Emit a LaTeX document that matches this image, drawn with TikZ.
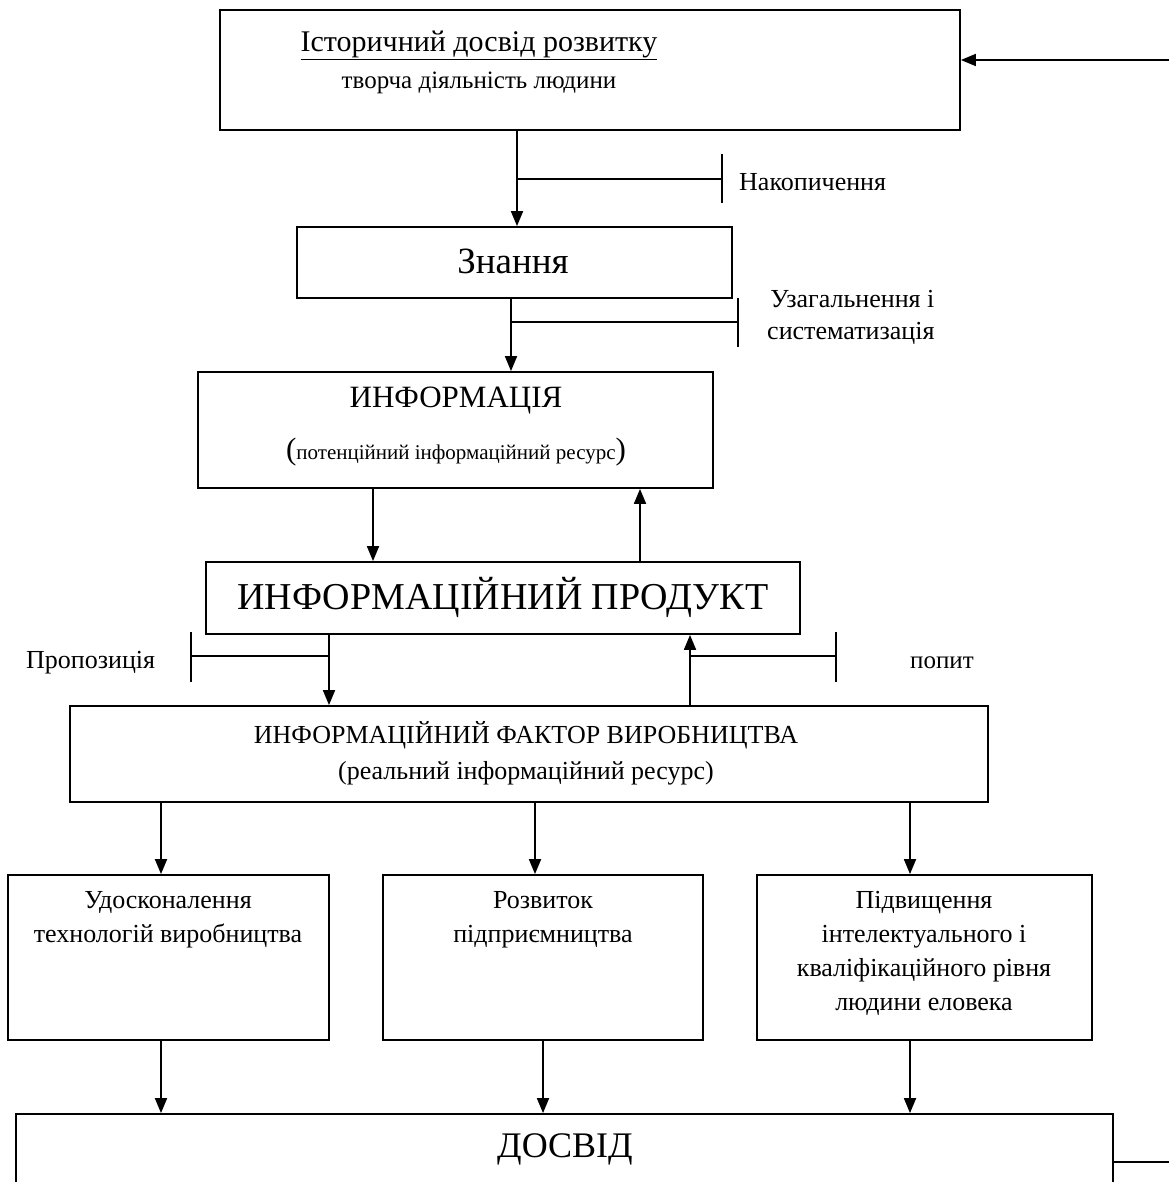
\documentclass[tikz,border=0pt]{standalone}
\usepackage{fontspec}
\setmainfont{Liberation Serif}
\usetikzlibrary{arrows.meta}
\newcommand{\fs}[1]{\fontsize{#1}{#1}\selectfont}
\newcommand{\fsl}[2]{\fontsize{#1}{#2}\selectfont}
\begin{document}
\begin{tikzpicture}[x=1pt,y=-1pt,
  box/.style={draw,line width=1.8pt,inner sep=0pt,anchor=center},
  txt/.style={inner sep=0pt,anchor=center,align=center},
  arr/.style={line width=1.8pt,-{Triangle[length=15pt,width=12pt]}},
  lnk/.style={line width=1.5pt},
]
\useasboundingbox (0,0) rectangle (1169,1182);

% boxes
\node[box,minimum width=740,minimum height=120] (hist) at (590,70) {};
\node[box,minimum width=435,minimum height=71]  (zn)   at (514.5,262.5) {};
\node[box,minimum width=515,minimum height=116] (inf)  at (455.5,430) {};
\node[box,minimum width=594,minimum height=72]  (prod) at (503,598) {};
\node[box,minimum width=918,minimum height=96]  (fac)  at (529,754) {};
\node[box,minimum width=321,minimum height=165] (ba)   at (168.5,957.5) {};
\node[box,minimum width=320,minimum height=165] (bb)   at (543,957.5) {};
\node[box,minimum width=335,minimum height=165] (bc)   at (924.5,957.5) {};
\node[box,minimum width=1097,minimum height=126] (dos) at (564.5,1177) {};

% texts
\node[txt,font=\fs{30}] (histT) at (479,45) {\underline{Історичний досвід розвитку}};
\node[txt,font=\fs{25}] (histS) at (479,83) {творча діяльність людини};
\node[txt,font=\fs{37}] (znT)   at (513,261) {Знання};
\node[txt,font=\fs{31}] (infT)  at (456,401) {ИНФОРМАЦІЯ};
\node[txt,font=\fs{31}] (infS)  at (456,452) {(\fs{21}потенційний інформаційний ресурс\fs{31})};
\node[txt,font=\fs{38}] (prodT) at (503,597) {ИНФОРМАЦІЙНИЙ ПРОДУКТ};
\node[txt,font=\fs{26}] (facT)  at (526,735) {ИНФОРМАЦІЙНИЙ ФАКТОР ВИРОБНИЦТВА};
\node[txt,font=\fs{26}] (facS)  at (526,773) {(реальний інформаційний ресурс)};
\node[txt,anchor=north,font=\fsl{26}{34}] (baT) at (168,891) {Удосконалення\\технологій виробництва};
\node[txt,anchor=north,font=\fsl{26}{34}] (bbT) at (543,891) {Розвиток\\підприємництва};
\node[txt,anchor=north,font=\fsl{26}{34}] (bcT) at (924,891) {Підвищення\\інтелектуального і\\кваліфікаційного рівня\\людини еловека};
\node[txt,font=\fs{36}] (dosT)  at (565,1149) {ДОСВІД};

% side labels
\node[txt,anchor=west,font=\fs{26}] (lNak) at (739,182) {Накопичення};
\node[txt,anchor=west,align=right,font=\fsl{26}{32}] (lUz) at (767,317) {Узагальнення і\\систематизація};
\node[txt,anchor=west,font=\fs{26}] (lPro) at (26,663) {Пропозиція};
\node[txt,anchor=west,font=\fs{25}] (lPop) at (910,663) {попит};

% connector columns and branch ends
\coordinate (x1) at (517,0);
\coordinate (x2) at (511,0);
\coordinate (x3) at (373,0);
\coordinate (x4) at (640,0);
\coordinate (x5) at (329,0);
\coordinate (x6) at (690,0);
\coordinate (xa) at (161,0);
\coordinate (xb) at (535,0);
\coordinate (xc) at (910,0);
\coordinate (xb2) at (543,0);
\coordinate (tNak) at (722,179);
\coordinate (tUz)  at (738,322);
\coordinate (tPro) at (191,656);
\coordinate (tPop) at (836,656);
\coordinate (inR)  at (1169,60);
\coordinate (outR) at (1169,1162);

% main flow
\draw[arr] (inR) -- (inR -| hist.east);
\draw[arr] (hist.south -| x1) -- (zn.north -| x1);
\draw[arr] (zn.south -| x2) -- (inf.north -| x2);
\draw[arr] (inf.south -| x3) -- (prod.north -| x3);
\draw[arr] (prod.north -| x4) -- (inf.south -| x4);
\draw[arr] (prod.south -| x5) -- (fac.north -| x5);
\draw[arr] (fac.north -| x6) -- (prod.south -| x6);
\draw[arr] (fac.south -| xa) -- (ba.north -| xa);
\draw[arr] (fac.south -| xb) -- (bb.north -| xb);
\draw[arr] (fac.south -| xc) -- (bc.north -| xc);
\draw[arr] (ba.south -| xa) -- (dos.north -| xa);
\draw[arr] (bb.south -| xb2) -- (dos.north -| xb2);
\draw[arr] (bc.south -| xc) -- (dos.north -| xc);
\draw[line width=1.8pt] (dos.east |- outR) -- (outR);

% branches with end ticks
\draw[lnk] (x1 |- tNak) -- (tNak);
\draw[lnk] ([yshift=25pt]tNak) -- ([yshift=-24pt]tNak);
\draw[lnk] (x2 |- tUz) -- (tUz);
\draw[lnk] ([yshift=24pt]tUz) -- ([yshift=-25pt]tUz);
\draw[lnk] (x5 |- tPro) -- (tPro);
\draw[lnk] ([yshift=24pt]tPro) -- ([yshift=-26pt]tPro);
\draw[lnk] (x6 |- tPop) -- (tPop);
\draw[lnk] ([yshift=24pt]tPop) -- ([yshift=-26pt]tPop);
\end{tikzpicture}
\end{document}
